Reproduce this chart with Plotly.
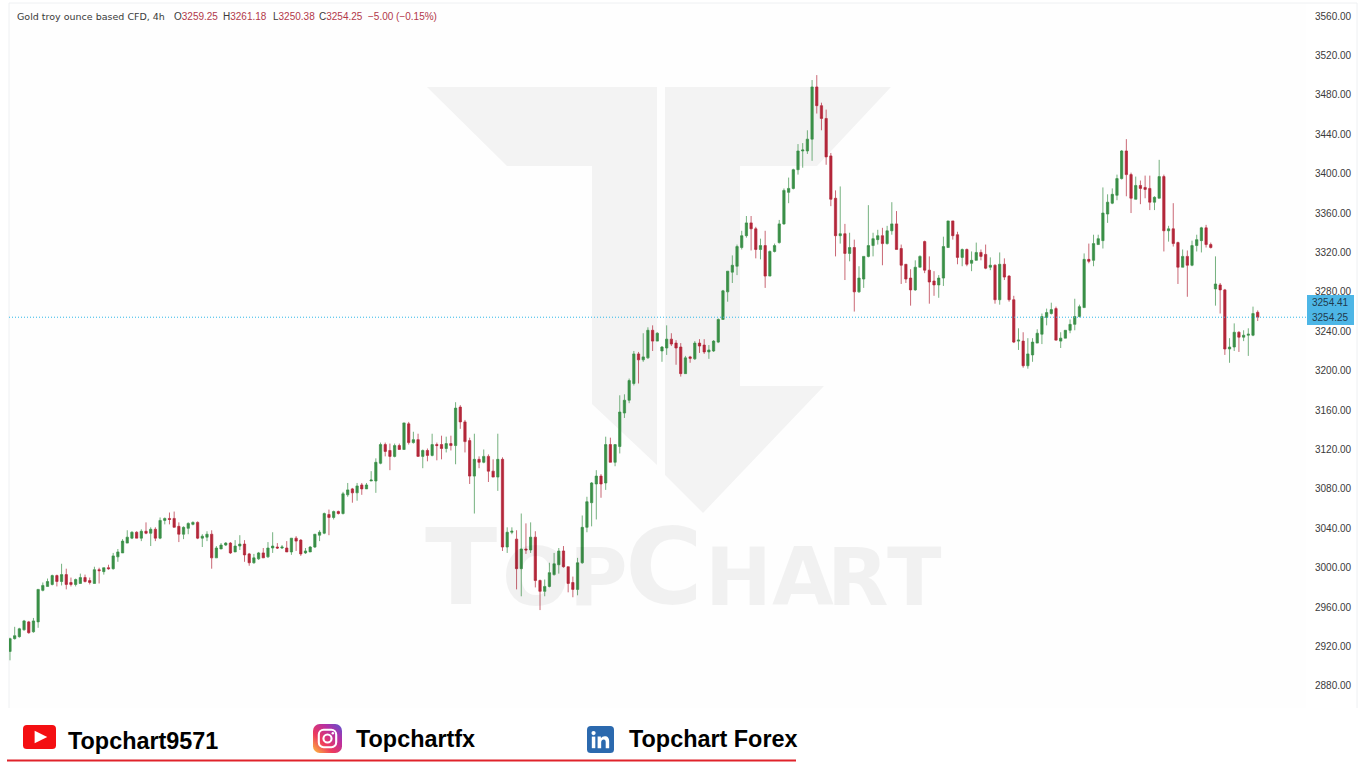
import base64
import plotly.graph_objects as go

opens = [
2915,2928,2930,2937,2945,2935,2945,2977,2981,2983,
2992,2986,2993,2985,2983,2984,2990,2987,2984,2998,
2996,3000,2999,3011,3015,3025,3030,3036,3030,3037,
3035,3039,3030,3048,3050,3050,3042,3034,3040,3044,
3046,3030,3031,3034,3010,3019,3023,3025,3016,3022,
3024,3014,3005,3009,3015,3011,3020,3021,3020,3020,
3016,3030,3028,3015,3016,3021,3033,3035,3054,3051,
3057,3055,3074,3080,3076,3084,3080,3088,3088,3106,
3125,3119,3113,3124,3120,3146,3127,3130,3113,3119,
3114,3125,3125,3121,3126,3124,3163,3148,3129,3093,
3110,3107,3113,3098,3092,3110,3021,3036,3029,2999,
3019,3018,3031,2987,2976,2981,2993,3003,3017,3001,
2985,2978,3005,3041,3066,3085,3093,3086,3125,3107,
3123,3157,3170,3187,3217,3211,3213,3241,3230,3220,
3223,3232,3228,3224,3197,3214,3212,3228,3226,3219,
3220,3229,3252,3280,3300,3306,3325,3337,3350,3344,
3323,3327,3296,3321,3330,3349,3381,3385,3404,3423,
3423,3435,3488,3469,3456,3418,3375,3337,3339,3319,
3325,3280,3293,3316,3327,3333,3337,3329,3342,3349,
3324,3308,3294,3282,3305,3331,3302,3291,3287,3294,
3325,3352,3338,3315,3323,3309,3312,3320,3318,3305,
3307,3272,3308,3296,3272,3230,3230,3205,3216,3228,
3237,3254,3258,3263,3230,3233,3241,3247,3255,3264,
3313,3312,3328,3332,3359,3370,3378,3395,3423,3399,
3374,3388,3386,3385,3371,3375,3397,3342,3344,3330,
3305,3316,3307,3327,3332,3345,3328,3283,3287,3282,
3222,3224,3239,3234,3236,3236,3259.25]

closes = [
2928,2931,2938,2946,2934,2946,2978,2982,2986,2992,
2986,2993,2983,2983,2988,2990,2986,2985,2998,2997,
3000,2999,3012,3016,3027,3031,3036,3030,3037,3035,
3039,3030,3048,3050,3049,3041,3034,3041,3045,3046,
3030,3032,3034,3010,3020,3023,3025,3015,3022,3024,
3013,3005,3010,3015,3010,3020,3022,3020,3021,3016,
3030,3027,3014,3017,3021,3034,3036,3055,3051,3057,
3055,3075,3079,3076,3083,3080,3084,3089,3107,3125,
3118,3113,3124,3120,3147,3127,3130,3113,3119,3114,
3125,3124,3121,3126,3124,3162,3148,3128,3093,3110,
3107,3113,3098,3092,3110,3021,3036,3037,2999,3019,
3018,3031,2987,2976,2981,2995,3004,3017,3001,2984,
2978,3005,3041,3067,3086,3093,3085,3125,3107,3125,
3158,3170,3190,3217,3211,3214,3241,3230,3238,3224,
3232,3227,3223,3197,3213,3212.5,3228,3225,3219,3221,
3230,3252,3281,3301,3307,3326,3337,3350,3344,3323,
3327,3296,3321,3327,3349,3383,3385,3404,3423,3424,
3435,3488,3469,3456,3417,3374,3337,3339,3319,3325,
3280,3294,3316,3327,3334,3337,3329,3342,3349,3323,
3307,3293,3282,3305,3316,3302,3290,3287,3294,3326,
3352,3337,3315,3323,3308,3312,3320,3316,3304,3307,
3272,3308,3295,3272,3229,3231,3205,3217,3229,3238,
3255,3259,3262,3231,3233,3241,3247,3255,3265,3313,
3311,3329,3334,3360,3371,3379,3395,3423,3399,3375,
3388,3385,3384,3371,3376,3397,3342,3344,3329,3305,
3316,3307,3327,3333,3345,3328,3325,3288,3282,3222,
3224,3239,3234,3236,3237,3258,3254.25]

highs = [
2929,2940,2939,2947,2946,2949,2978,2985,2989,2993,
2993,3004,2999,2990,2989,2994,2993,2990,3001,3000,
3000,3003,3015,3019,3029,3038,3037,3037,3039,3046,
3041,3041,3051,3051,3056,3057,3046,3042,3046,3047,
3047,3034,3037,3038,3022,3025,3026,3026,3028,3033,
3028,3015,3014,3016,3020,3026,3036,3025,3023,3027,
3030,3032,3029,3020,3022,3034,3038,3056,3059,3058,
3058,3077,3086,3081,3086,3086,3086,3098,3111,3127,
3127,3126,3126,3126,3147,3148,3138,3136,3120,3121,
3136,3127,3134,3133,3134,3168,3165,3150,3132,3136,
3113,3120,3115,3110,3136,3112,3041,3041,3038,3055,
3045,3046,3037,2988,2988,3005,3015,3020,3022,3001,
2991,3010,3053,3072,3087,3099,3095,3133,3132,3125,
3175,3176,3192,3220,3219,3238,3244,3246,3239,3225,
3246,3238,3231,3228,3215,3215,3230,3232,3232,3226,
3231,3253,3282,3301,3317,3328,3342,3357,3357,3346,
3334,3342,3322,3329,3353,3385,3396,3405,3430,3431,
3444,3495,3500,3472,3465,3421,3383,3387,3349,3340,
3333,3306,3316,3368,3340,3343,3345,3347,3371,3362,
3328,3308,3303,3312,3317,3332,3316,3301,3297,3336,
3352,3352,3341,3324,3324,3321,3330,3323,3328,3315,
3308,3320,3314,3297,3276,3243,3239,3233,3233,3242,
3258,3263,3269,3265,3239,3241,3252,3273,3267,3319,
3329,3338,3338,3386,3379,3385,3399,3424,3435,3401,
3397,3393,3398,3398,3377,3414,3399,3347,3370,3331,
3323,3322,3332,3338,3346,3348,3330,3316,3289,3283,
3233,3248,3240,3241,3243,3265,3261.18]

lows = [
2906,2927,2929,2936,2933,2934,2939,2976,2981,2982,
2981,2982,2978,2981,2981,2984,2985,2983,2984,2984,
2993,2998,2998,3006,3015,3025,3029,3030,3027,3034,
3022,3027,3029,3044,3044,3041,3026,3029,3034,3043,
3029,3021,3027,2999,3010,3019,3022,3014,3016,3018,
3006,3002,3004,3008,3010,3010,3015,3019,3019,3016,
3013,3017,3012,3014,3016,3020,3027,3034,3033,3049,
3054,3054,3072,3066,3068,3074,3080,3088,3076,3105,
3113,3099,3112,3120,3120,3125,3126,3113,3101,3108,
3113,3109,3110,3117,3119,3105,3141,3117,3085,3055,
3101,3106,3087,3092,3078,3017,3015,3034,2978,2971,
3014,3015,2980,2957,2971,2980,2992,2994,3000,2975,
2970,2972,3004,3036,3042,3049,3071,3079,3107,3103,
3116,3152,3167,3185,3187,3209,3212,3220,3230,3209,
3216,3225,3206,3194,3197,3208,3211,3218,3217,3212,
3219,3228,3252,3270,3289,3297,3323,3335,3322,3314,
3313,3284,3296,3320,3329,3348,3370,3384,3399,3406,
3420,3413,3461,3444,3409,3367,3316,3329,3292,3311,
3260,3279,3284,3315,3316,3328,3307,3328,3338,3323,
3288,3289,3266,3281,3305,3299,3268,3276,3274,3286,
3325,3333,3308,3306,3306,3301,3312,3312,3303,3302,
3268,3267,3292,3270,3228,3221,3203,3202,3209,3228,
3227,3246,3257,3231,3223,3233,3238,3241,3254,3264,
3309,3306,3328,3324,3350,3369,3373,3394,3377,3360,
3374,3369,3375,3363,3363,3375,3321,3331,3326,3288,
3305,3275,3306,3321,3320,3325,3324,3266,3258,3216,
3208,3220,3219,3230,3215,3235,3250.38]

tick_vals = list(range(2880, 3561, 40))
tick_text = [f"{v}.00" for v in tick_vals]
last_price = 3254.25
badge_labels = ["3254.41", "3254.25"]
socials = ["Topchart9571", "Topchartfx", "Topchart Forex"]

W, H = 1366, 768
ML, MR, MT, MB = 9, 60, 3, 60
PW, PH = W - ML - MR, H - MT - MB
GREEN, RED = "#3a8f47", "#b3273a"
INK = "#3a3a3a"

def px(x):
    return (x - ML) / PW

def py(y):
    return 1 - (y - MT) / PH

def svg_uri(svg):
    return "data:image/svg+xml;base64," + base64.b64encode(svg.encode()).decode()

fig = go.Figure(go.Candlestick(
    x=list(range(len(opens))), open=opens, high=highs, low=lows, close=closes,
    increasing=dict(line=dict(color=GREEN, width=0.7), fillcolor=GREEN),
    decreasing=dict(line=dict(color=RED, width=0.7), fillcolor=RED),
    whiskerwidth=0, showlegend=False, hoverinfo="skip",
))

shapes = []
# watermark logo
for path in [
    "M427,87 L657,87 L657,465 L592,404 L592,166 L507,166 Z",
    "M665,87 L891,87 L817,166 L740,166 L740,386 L824,386 L703,513 L665,475 Z",
]:
    pts = []
    for tok in path.replace("Z", "").split():
        c = tok[0] if tok[0] in "ML" else ""
        a, b = tok.lstrip("ML").split(",")
        pts.append(f"{c} {px(float(a)):.5f},{py(float(b)):.5f}")
    shapes.append(dict(type="path", path=" ".join(pts) + " Z", xref="paper", yref="paper",
                       fillcolor="#f3f3f3", line_width=0, layer="below"))
# frame
for x0, y0, x1, y1 in [(9, 3, 9, 708), (9, 3, 1357, 3), (1357, 3, 1357, 708)]:
    shapes.append(dict(type="line", xref="paper", yref="paper", x0=px(x0), x1=px(x1), y0=py(y0), y1=py(y1),
                       line=dict(color="#eef0f2", width=1), layer="below"))
# price line
shapes.append(dict(type="line", xref="x domain", yref="y", x0=0, x1=1, y0=last_price, y1=last_price,
                   line=dict(color="#30b8e8", width=1, dash="1px,2px"), layer="above"))
# price badge
shapes.append(dict(type="rect", xref="paper", yref="paper", x0=px(1307), x1=px(1354), y0=py(325), y1=py(295),
                   fillcolor="#4db6e6", line_width=0, layer="above"))
# underline
shapes.append(dict(type="line", xref="paper", yref="paper", x0=px(7), x1=px(796), y0=py(760.5), y1=py(760.5),
                   line=dict(color="#e0232b", width=2)))

ann = []
def text(x, y, s, size, color=INK, family="Liberation Sans", anchor="left", bold=False):
    ann.append(dict(xref="paper", yref="paper", x=px(x), y=py(y), text=f"<b>{s}</b>" if bold else s,
                    showarrow=False, xanchor=anchor, yanchor="middle", align="left",
                    font=dict(size=size, color=color, family=family), borderpad=0))

# header
V = "#b2384a"
def val(s):
    return f'<span style="color:{V}">{s}</span>'
text(16, 16, "Gold troy ounce based CFD, 4h", 9.5, INK, "DejaVu Sans")
text(173, 16, "O" + val("3259.25"), 10)
text(222, 16, "H" + val("3261.18"), 10)
text(272, 16, "L" + val("3250.38"), 10)
text(318, 16, "C" + val("3254.25"), 10)
text(367, 16, val("−5.00 (−0.15%)"), 10)

# badge labels
text(1331, 302, badge_labels[0], 10, "#1f3a4d", anchor="center")
text(1331, 317, badge_labels[1], 10, "#1f3a4d", anchor="center")

# watermark text: translucent so it stays faint over the candles
WM = "rgba(0,0,0,0.05)"
for ch, x, size in [("T", 461, 106), ("O", 536, 80), ("P", 598, 80), ("C", 664, 106),
                    ("H", 738, 80), ("A", 803, 80), ("R", 858, 80), ("T", 914, 80)]:
    base = 606
    text(x, base - size * 0.36, ch, size, WM, family="DejaVu Sans", anchor="center", bold=True)

# socials
text(67, 741, socials[0], 23.4, "#000", anchor="left", bold=True)
text(355, 739, socials[1], 23.4, "#000", anchor="left", bold=True)
text(628, 739, socials[2], 23.4, "#000", anchor="left", bold=True)

yt = ('<svg xmlns="http://www.w3.org/2000/svg" viewBox="0 0 34 25"><rect width="34" height="25" rx="4" fill="#f40f12"/>'
      '<path d="M12 6 L25 12.5 L12 19 Z" fill="#fff"/></svg>')
ig = ('<svg xmlns="http://www.w3.org/2000/svg" viewBox="0 0 30 30"><defs><linearGradient id="g" x1="0" y1="1" x2="1" y2="0">'
      '<stop offset="0" stop-color="#fdc23c"/><stop offset=".35" stop-color="#ee3a5d"/><stop offset=".7" stop-color="#b52fa5"/>'
      '<stop offset="1" stop-color="#5a55d0"/></linearGradient></defs><rect width="30" height="30" rx="7" fill="url(#g)"/>'
      '<rect x="6" y="6" width="18" height="18" rx="5" fill="none" stroke="#fff" stroke-width="2.2"/>'
      '<circle cx="15" cy="15" r="4.2" fill="none" stroke="#fff" stroke-width="2.2"/><circle cx="20.5" cy="9.5" r="1.3" fill="#fff"/></svg>')
li = ('<svg xmlns="http://www.w3.org/2000/svg" viewBox="0 0 28 28"><rect width="28" height="28" rx="4" fill="#2b69ae"/>'
      '<rect x="5" y="11" width="3.6" height="12" fill="#fff"/><circle cx="6.8" cy="7.3" r="2.2" fill="#fff"/>'
      '<path d="M11 11 h3.4 v1.8 c.8-1.3 2.2-2.1 4-2.1 3.4 0 4.6 2.1 4.6 5.4 v6.9 h-3.6 v-6.2 c0-1.7-.5-2.9-2-2.9 -1.6 0-2.7 1.1-2.7 3 v6.1 h-3.7 Z" fill="#fff"/></svg>')
images = []
for svg, x0, y0, w, h in [(yt, 23, 725, 33, 24), (ig, 313, 724, 29, 29), (li, 587, 726, 27, 27)]:
    images.append(dict(source=svg_uri(svg), xref="paper", yref="paper", x=px(x0), y=py(y0),
                       sizex=w / PW, sizey=h / PH, xanchor="left", yanchor="top", sizing="stretch", layer="above"))

fig.update_layout(
    width=W, height=H, margin=dict(l=ML, r=MR, t=MT, b=MB, pad=0),
    paper_bgcolor="#ffffff", plot_bgcolor="#fefefe",
    font=dict(family="Liberation Sans", size=10, color=INK),
    shapes=shapes, annotations=ann, images=images,
    hovermode=False, dragmode=False,
    xaxis=dict(range=[-0.21, 276.3], showgrid=False, zeroline=False, showticklabels=False, ticks="",
               rangeslider=dict(visible=False), showline=False, fixedrange=True),
    yaxis=dict(side="right", range=[2857.6, 3573.2], showgrid=False, zeroline=False, tickvals=tick_vals,
               ticktext=tick_text, ticks="outside", ticklen=6, tickcolor="rgba(0,0,0,0)", showline=False,
               tickfont=dict(size=10, color=INK, family="Liberation Sans"), fixedrange=True),
)

fig.write_html("out.html", config=dict(displayModeBar=False),
               post_script="document.body.style.margin='0';document.body.style.overflow='hidden';")
